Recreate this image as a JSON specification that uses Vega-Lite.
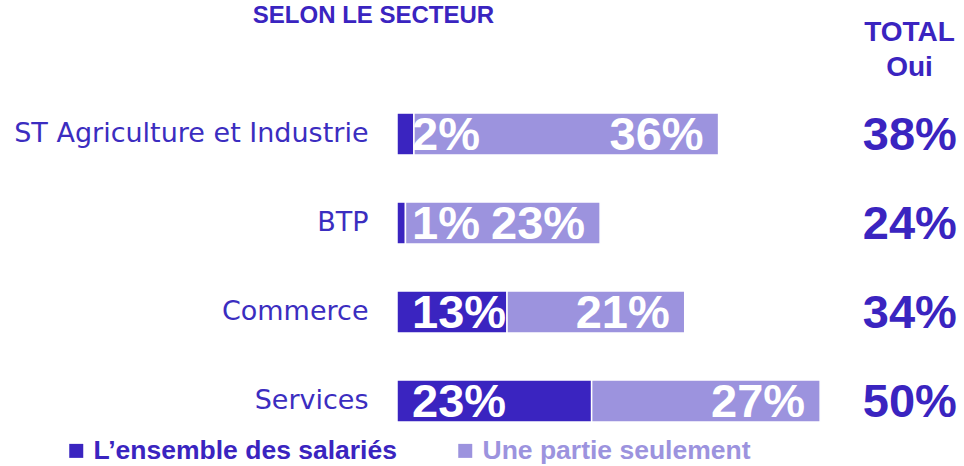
{
  "$schema": "https://vega.github.io/schema/vega-lite/v6.json",
  "autosize": {"type": "none"},
  "padding": {"left": 397, "top": 89.5, "right": 0, "bottom": 20.5},
  "width": 567,
  "height": 356,
  "background": "white",
  "config": {"view": {"stroke": null}, "font": "Liberation Sans"},
  "data": {
    "values": [
      {"secteur": "ST Agriculture et Industrie", "type": "L’ensemble des salariés", "value": 2, "total": "38%"},
      {"secteur": "ST Agriculture et Industrie", "type": "Une partie seulement", "value": 36, "total": "38%"},
      {"secteur": "BTP", "type": "L’ensemble des salariés", "value": 1, "total": "24%"},
      {"secteur": "BTP", "type": "Une partie seulement", "value": 23, "total": "24%"},
      {"secteur": "Commerce", "type": "L’ensemble des salariés", "value": 13, "total": "34%"},
      {"secteur": "Commerce", "type": "Une partie seulement", "value": 21, "total": "34%"},
      {"secteur": "Services", "type": "L’ensemble des salariés", "value": 23, "total": "50%"},
      {"secteur": "Services", "type": "Une partie seulement", "value": 27, "total": "50%"}
    ]
  },
  "encoding": {
    "y": {
      "field": "secteur",
      "type": "nominal",
      "sort": ["ST Agriculture et Industrie", "BTP", "Commerce", "Services"],
      "scale": {"paddingInner": 0.53, "paddingOuter": 0.265},
      "axis": {
        "orient": "left",
        "ticks": false,
        "domain": false,
        "grid": false,
        "labelPadding": 29,
        "labelFontSize": 27,
        "labelColor": "#3B2DC0",
        "labelFont": "DejaVu Sans",
        "labelLimit": 400,
        "title": ["TOTAL", "Oui"],
        "titleAngle": 0,
        "titleX": 512,
        "titleY": -49.5,
        "titleAlign": "center",
        "titleBaseline": "alphabetic",
        "titleFontSize": 28,
        "titleFontWeight": "bold",
        "titleColor": "#3A24C0",
        "titleLineHeight": 35,
        "titleFont": "Liberation Sans"
      }
    }
  },
  "layer": [
    {
      "mark": {"type": "bar", "stroke": "white", "strokeWidth": 1.5},
      "encoding": {
        "x": {
          "field": "value",
          "type": "quantitative",
          "stack": "zero",
          "scale": {"domain": [0, 67], "nice": false, "zero": true},
          "axis": {
            "orient": "top",
            "labels": false,
            "ticks": false,
            "domain": false,
            "grid": false,
            "title": "SELON LE SECTEUR",
            "titleX": -24,
            "titleY": -67.5,
            "titleAlign": "center",
            "titleBaseline": "alphabetic",
            "titleFontSize": 24,
            "titleFontWeight": "bold",
            "titleColor": "#3A24C0",
            "titleFont": "Liberation Sans"
          }
        },
        "color": {
          "field": "type",
          "type": "nominal",
          "scale": {
            "domain": ["L’ensemble des salariés", "Une partie seulement"],
            "range": ["#3A24C0", "#9C93DE"]
          },
          "legend": {
            "orient": "none",
            "direction": "horizontal",
            "legendX": -334,
            "legendY": 348,
            "title": null,
            "padding": 0,
            "symbolType": "square",
            "symbolSize": 196,
            "symbolStrokeWidth": 0,
            "labelFontSize": 26.5,
            "labelFontWeight": "bold",
            "labelFont": "Liberation Sans",
            "labelOffset": 4,
            "labelLimit": 400,
            "columnPadding": 55,
            "labelColor": {"expr": "datum.label == 'Une partie seulement' ? '#9C93DE' : '#3A24C0'"}
          }
        },
        "order": {"field": "type", "type": "nominal"}
      }
    },
    {
      "transform": [
        {"stack": "value", "groupby": ["secteur"], "sort": [{"field": "type"}], "as": ["x0", "x1"]},
        {"filter": "datum.type == 'L’ensemble des salariés'"},
        {"calculate": "datum.value + '%'", "as": "label"}
      ],
      "mark": {"type": "text", "align": "left", "baseline": "middle", "dx": 15, "dy": 2, "fontSize": 47, "fontWeight": "bold", "color": "white", "font": "Liberation Sans"},
      "encoding": {
        "x": {"field": "x0", "type": "quantitative"},
        "text": {"field": "label"}
      }
    },
    {
      "transform": [
        {"stack": "value", "groupby": ["secteur"], "sort": [{"field": "type"}], "as": ["x0", "x1"]},
        {"filter": "datum.type == 'Une partie seulement'"},
        {"calculate": "datum.value + '%'", "as": "label"}
      ],
      "mark": {"type": "text", "align": "right", "baseline": "middle", "dx": -15, "dy": 2, "fontSize": 47, "fontWeight": "bold", "color": "white", "font": "Liberation Sans"},
      "encoding": {
        "x": {"field": "x1", "type": "quantitative"},
        "text": {"field": "label"}
      }
    },
    {
      "transform": [{"filter": "datum.type == 'L’ensemble des salariés'"}],
      "mark": {"type": "text", "align": "center", "baseline": "middle", "dy": 2, "fontSize": 47, "fontWeight": "bold", "color": "#3A24C0", "font": "Liberation Sans"},
      "encoding": {
        "x": {"datum": 60.6},
        "text": {"field": "total"}
      }
    }
  ]
}
